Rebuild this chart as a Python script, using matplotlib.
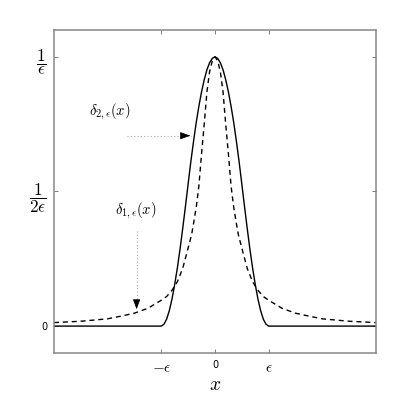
import numpy as np
import matplotlib
matplotlib.use("Agg")
import matplotlib.pyplot as plt
import matplotlib.transforms as mtransforms

plt.rcParams['mathtext.fontset'] = 'cm'
plt.rcParams['font.family'] = ['DejaVu Sans']

# delta_2 (solid), x in units of epsilon
x_solid = [-3.0, -1.0, -0.95, -0.9, -0.85, -0.8, -0.75, -0.7, -0.65, -0.6, -0.55,
           -0.5, -0.45, -0.4, -0.35, -0.3, -0.25, -0.2, -0.15, -0.1, -0.05, 0.0,
           0.05, 0.1, 0.15, 0.2, 0.25, 0.3, 0.35, 0.4, 0.45, 0.5, 0.55, 0.6,
           0.65, 0.7, 0.75, 0.8, 0.85, 0.9, 0.95, 1.0, 3.0]
y_solid = [0.0, 0.0, 0.007, 0.026, 0.058, 0.101, 0.155, 0.217, 0.287, 0.364, 0.445,
           0.528, 0.610, 0.685, 0.755, 0.816, 0.870, 0.915, 0.952, 0.978, 0.994, 1.0,
           0.994, 0.978, 0.952, 0.915, 0.870, 0.816, 0.755, 0.685, 0.610, 0.528, 0.445, 0.364,
           0.287, 0.217, 0.155, 0.101, 0.058, 0.026, 0.007, 0.0, 0.0]

# delta_1 (dashed)
x_dash = [-3.0, -2.5, -2.0, -1.75, -1.5, -1.25, -1.0, -0.9, -0.8, -0.7, -0.6, -0.5,
          -0.435, -0.4, -0.35, -0.3, -0.25, -0.2, -0.15, -0.1, -0.05, 0.0,
          0.05, 0.1, 0.15, 0.2, 0.25, 0.3, 0.35, 0.4, 0.435, 0.5, 0.6, 0.7,
          0.8, 0.9, 1.0, 1.25, 1.5, 1.75, 2.0, 2.5, 3.0]
y_dash = [0.013, 0.018, 0.027, 0.037, 0.048, 0.066, 0.096, 0.110, 0.133, 0.165, 0.215, 0.290,
          0.340, 0.380, 0.440, 0.520, 0.640, 0.750, 0.870, 0.945, 0.985, 1.0,
          0.985, 0.945, 0.870, 0.750, 0.640, 0.520, 0.440, 0.380, 0.340, 0.290, 0.215, 0.165,
          0.133, 0.110, 0.096, 0.066, 0.048, 0.037, 0.027, 0.018, 0.013]

x_ticks = [-1, 0, 1]
x_labels = [r'$-\epsilon$', '0', r'$\epsilon$']
y_ticks = [0, 0.5, 1]
y_labels = ['0', r'$\dfrac{1}{2\epsilon}$', r'$\dfrac{1}{\epsilon}$']

fig = plt.figure(figsize=(4.15, 3.98), dpi=100)
ax = fig.add_axes([0.130, 0.113, 0.776, 0.812])

ax.plot(x_solid, y_solid, color='black', lw=1.0)
ax.plot(x_dash, y_dash, color='black', lw=1.0, linestyle=(0, (3.6, 2.8)))

ax.set_xlim(-3, 3)
ax.set_ylim(-0.1, 1.1)

ax.set_xticks(x_ticks)
ax.set_xticklabels(x_labels)
ax.set_yticks(y_ticks)
ax.set_yticklabels(y_labels)
for lab in ax.get_xticklabels():
    lab.set_fontsize(11)
ax.get_xticklabels()[1].set_fontsize(7)

# fractions sit a little above their ticks
shift_up = mtransforms.ScaledTranslation(0, 5 / 72, fig.dpi_scale_trans)
for lab in ax.get_yticklabels()[1:]:
    lab.set_fontsize(12.5)
    lab.set_transform(lab.get_transform() + shift_up)
ax.get_yticklabels()[0].set_fontsize(7)

ax.tick_params(direction='in', length=3, width=0.6, color='#666666',
               top=True, right=True, pad=5)
for s in ax.spines.values():
    s.set_color('#888888')
    s.set_linewidth(1.1)

ax.set_xlabel(r'$x$', fontsize=14, labelpad=0)

# labels with dotted arrows
ax.text(-1.96, 0.796, r'$\delta_{2,\epsilon}(x)$', fontsize=10.5, ha='center', va='center')
ax.plot([-1.63, -0.45], [0.707, 0.707], color='#aaaaaa', lw=0.8, linestyle=(0, (1, 2)))
ax.annotate('', xy=(-0.41, 0.707), xytext=(-0.55, 0.707),
            arrowprops=dict(arrowstyle='-|>,head_length=0.6,head_width=0.22',
                            color='black', lw=0.6))

ax.text(-1.48, 0.426, r'$\delta_{1,\epsilon}(x)$', fontsize=10.5, ha='center', va='center')
ax.plot([-1.46, -1.46], [0.352, 0.07], color='#aaaaaa', lw=0.8, linestyle=(0, (1, 2)))
ax.annotate('', xy=(-1.46, 0.052), xytext=(-1.46, 0.09),
            arrowprops=dict(arrowstyle='-|>,head_length=0.6,head_width=0.22',
                            color='black', lw=0.6))

fig.savefig('out.png', dpi=100)
